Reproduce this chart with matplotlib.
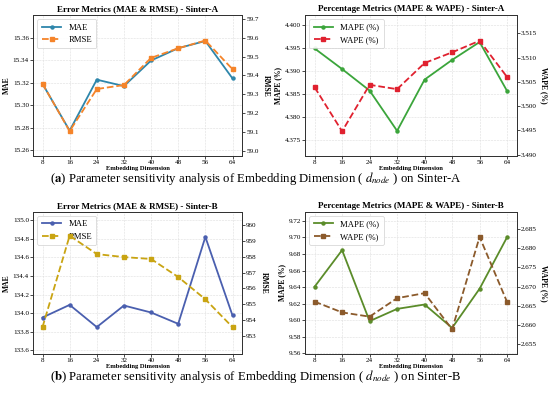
import numpy as np
import matplotlib
matplotlib.use('Agg')
import matplotlib.pyplot as plt
from matplotlib.ticker import FormatStrFormatter

plt.rcParams['font.family'] = ['Liberation Serif', 'DejaVu Serif']
plt.rcParams['mathtext.fontset'] = 'stix'

dims = [8, 16, 24, 32, 40, 48, 56, 64]

# Sinter-A
mae_a = [15.319, 15.2775, 15.3227, 15.317, 15.3397, 15.3506, 15.357, 15.3238]
rmse_a = [59.356, 59.105, 59.328, 59.349, 59.493, 59.544, 59.585, 59.433]
mape_a = [4.3949, 4.3904, 4.3857, 4.3769, 4.3881, 4.3924, 4.3963, 4.3856]
wape_a = [3.5039, 3.4948, 3.5044, 3.5035, 3.5089, 3.5111, 3.5135, 3.5060]

# Sinter-B
mae_b = [133.953, 134.089, 133.850, 134.082, 134.007, 133.885, 134.820, 133.975]
rmse_b = [953.55, 959.33, 958.17, 957.98, 957.86, 956.72, 955.31, 953.55]
mape_b = [9.6404, 9.6847, 9.5988, 9.6136, 9.6189, 9.5906, 9.6380, 9.7004]
wape_b = [2.6661, 2.6633, 2.6622, 2.6670, 2.6683, 2.6589, 2.6829, 2.6660]

fig = plt.figure(figsize=(5.5, 3.96), dpi=100)

panels = [
    dict(rect=[0.060, 0.606, 0.380, 0.356], title='Error Metrics (MAE & RMSE) - Sinter-A',
         l=mae_a, r=rmse_a, ln='MAE', rn='RMSE', ll='MAE', rl='RMSE',
         lc='#2E86AB', rc='#F5842A', lylim=(15.255, 15.38), rylim=(58.973, 59.72),
         lt=np.arange(15.26, 15.361, 0.02), rt=np.arange(59.0, 59.71, 0.1),
         lf='%.2f', rf='%.1f'),
    dict(rect=[0.5545, 0.606, 0.385, 0.356], title='Percentage Metrics (MAPE & WAPE) - Sinter-A',
         l=mape_a, r=wape_a, ln='MAPE (%)', rn='WAPE (%)', ll='MAPE (%)', rl='WAPE (%)',
         lc='#3BA53B', rc='#E0212F', lylim=(4.3714, 4.4022), rylim=(3.4897, 3.5188),
         lt=np.arange(4.375, 4.4001, 0.005), rt=np.arange(3.490, 3.5151, 0.005),
         lf='%.3f', rf='%.3f'),
    dict(rect=[0.060, 0.106, 0.380, 0.359], title='Error Metrics (MAE & RMSE) - Sinter-B',
         l=mae_b, r=rmse_b, ln='MAE', rn='RMSE', ll='MAE', rl='RMSE',
         lc='#4A5FAF', rc='#C9A412', lylim=(133.56, 135.09), rylim=(951.85, 960.84),
         lt=np.arange(133.6, 135.01, 0.2), rt=np.arange(953, 960.1, 1),
         lf='%.1f', rf='%.0f'),
    dict(rect=[0.5545, 0.106, 0.385, 0.359], title='Percentage Metrics (MAPE & WAPE) - Sinter-B',
         l=mape_b, r=wape_b, ln='MAPE (%)', rn='WAPE (%)', ll='MAPE (%)', rl='WAPE (%)',
         lc='#5B8C2A', rc='#8B5A2B', lylim=(9.559, 9.731), rylim=(2.6525, 2.6894),
         lt=np.arange(9.56, 9.721, 0.02), rt=np.arange(2.655, 2.6851, 0.005),
         lf='%.2f', rf='%.3f'),
]

for p in panels:
    ax = fig.add_axes(p['rect'])
    ax2 = ax.twinx()
    h1, = ax.plot(dims, p['l'], '-o', color=p['lc'], lw=1.3, ms=2.2, label=p['ln'])
    h2, = ax2.plot(dims, p['r'], '--s', color=p['rc'], lw=1.3, ms=2.2, label=p['rn'])
    ax.set_ylim(*p['lylim'])
    ax2.set_ylim(*p['rylim'])
    ax.set_yticks(p['lt'])
    ax2.set_yticks(p['rt'])
    ax.yaxis.set_major_formatter(FormatStrFormatter(p['lf']))
    ax2.yaxis.set_major_formatter(FormatStrFormatter(p['rf']))
    ax.set_xticks(dims)
    ax.grid(True, ls='--', lw=0.4, color='#dddddd')
    ax.set_axisbelow(True)
    ax.set_title(p['title'], fontsize=6.5, fontweight='bold', pad=3)
    ax.set_xlabel('Embedding Dimension', fontsize=4.7, fontweight='bold', labelpad=0.5)
    ax.set_ylabel(p['ll'], fontsize=5.5, fontweight='bold', labelpad=1.5)
    ax2.set_ylabel(p['rl'], fontsize=5.5, fontweight='bold', rotation=270, labelpad=8)
    for a in (ax, ax2):
        a.tick_params(labelsize=5.1, length=2, width=0.5, pad=1)
        for s in a.spines.values():
            s.set_linewidth(0.7)
            s.set_color('#333333')
    leg = ax.legend([h1, h2], [p['ln'], p['rn']], loc='upper left', fontsize=6.2,
                    frameon=True, fancybox=True, framealpha=0.9, edgecolor='#cccccc',
                    handlelength=2.3, borderpad=0.5, labelspacing=0.5)
    leg.get_frame().set_linewidth(0.5)

fig.text(0.465, 0.548, r'($\mathbf{a}$) Parameter sensitivity analysis of Embedding Dimension ( $d_{node}$ ) on Sinter-A',
         ha='center', va='center', fontsize=9.2)
fig.text(0.465, 0.050, r'($\mathbf{b}$) Parameter sensitivity analysis of Embedding Dimension ( $d_{node}$ ) on Sinter-B',
         ha='center', va='center', fontsize=9.2)

fig.savefig('out.png', dpi=100)
